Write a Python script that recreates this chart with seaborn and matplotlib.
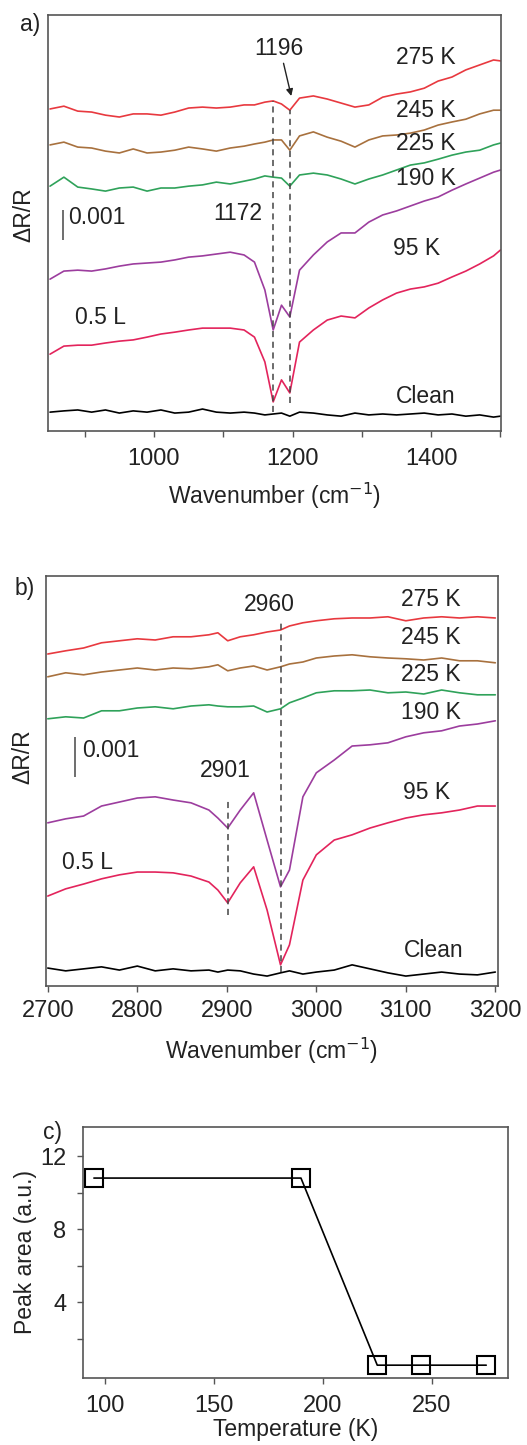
import matplotlib
matplotlib.use("Agg")
import matplotlib.pyplot as plt
import seaborn as sns
import pandas as pd

# ---------------- data (ΔR/R in units of 1e-3, arbitrary vertical offsets) ----------------
wn_a = [850, 870, 890, 910, 930, 950, 970, 990, 1010, 1030, 1050, 1070, 1090, 1110, 1130, 1145,
        1160, 1172, 1184, 1196, 1210, 1230, 1250, 1270, 1290, 1310, 1330, 1350, 1370, 1390, 1410,
        1430, 1450, 1470, 1490, 1500]
a_275 = [10.39, 10.48, 10.32, 10.29, 10.19, 10.13, 10.23, 10.23, 10.19, 10.29, 10.42, 10.45, 10.42,
         10.45, 10.52, 10.52, 10.61, 10.65, 10.55, 10.35, 10.74, 10.81, 10.71, 10.58, 10.45, 10.52,
         10.77, 10.87, 10.94, 11.06, 11.29, 11.42, 11.65, 11.81, 11.97, 11.94]
a_245 = [9.23, 9.32, 9.16, 9.13, 9.03, 8.97, 9.10, 8.97, 9.00, 9.06, 9.16, 9.10, 9.03, 9.13, 9.19,
         9.26, 9.32, 9.39, 9.39, 9.06, 9.52, 9.65, 9.48, 9.35, 9.16, 9.39, 9.52, 9.55, 9.61, 9.71,
         9.87, 9.97, 10.06, 10.23, 10.35, 10.35]
a_225 = [7.90, 8.19, 7.87, 7.81, 7.74, 7.84, 7.87, 7.74, 7.84, 7.84, 7.90, 7.94, 8.03, 7.97, 8.06,
         8.13, 8.23, 8.19, 8.16, 7.90, 8.26, 8.32, 8.26, 8.13, 7.97, 8.13, 8.26, 8.42, 8.58, 8.65,
         8.77, 8.90, 9.00, 9.06, 9.23, 9.29]
a_190 = [4.90, 5.16, 5.19, 5.16, 5.23, 5.32, 5.39, 5.42, 5.45, 5.52, 5.61, 5.65, 5.71, 5.77, 5.68,
         5.45, 4.55, 3.26, 4.06, 3.68, 5.19, 5.68, 6.10, 6.39, 6.39, 6.74, 6.97, 7.10, 7.26, 7.42,
         7.55, 7.77, 7.97, 8.16, 8.35, 8.42]
a_95 = [2.48, 2.74, 2.77, 2.77, 2.84, 2.90, 2.94, 3.03, 3.13, 3.19, 3.26, 3.32, 3.32, 3.32, 3.26,
        3.03, 2.23, 0.94, 1.65, 1.23, 2.87, 3.26, 3.58, 3.71, 3.65, 3.97, 4.23, 4.45, 4.58, 4.65,
        4.77, 4.97, 5.16, 5.39, 5.65, 5.84]
a_clean = [0.61, 0.65, 0.68, 0.61, 0.68, 0.58, 0.65, 0.61, 0.68, 0.58, 0.61, 0.71, 0.61, 0.58, 0.61,
           0.58, 0.52, 0.55, 0.58, 0.48, 0.61, 0.58, 0.52, 0.48, 0.58, 0.52, 0.55, 0.52, 0.55, 0.58,
           0.52, 0.55, 0.48, 0.52, 0.45, 0.48]

wn_b = [2700, 2720, 2740, 2760, 2780, 2800, 2820, 2840, 2860, 2880, 2890, 2901, 2915, 2930, 2945,
        2960, 2970, 2985, 3000, 3020, 3040, 3060, 3080, 3100, 3120, 3140, 3160, 3180, 3200]
b_275 = [8.30, 8.38, 8.45, 8.58, 8.63, 8.68, 8.65, 8.73, 8.73, 8.78, 8.83, 8.63, 8.73, 8.78, 8.85,
         8.90, 9.00, 9.08, 9.13, 9.18, 9.20, 9.20, 9.23, 9.13, 9.20, 9.23, 9.20, 9.23, 9.20]
b_245 = [7.73, 7.83, 7.78, 7.85, 7.90, 7.95, 7.90, 7.95, 7.93, 7.98, 8.03, 7.88, 7.95, 8.00, 7.90,
         7.98, 8.05, 8.10, 8.20, 8.25, 8.28, 8.23, 8.20, 8.18, 8.15, 8.20, 8.13, 8.13, 8.08]
b_225 = [6.68, 6.73, 6.70, 6.88, 6.88, 6.95, 6.98, 6.93, 7.00, 7.03, 7.00, 6.98, 6.98, 7.00, 6.85,
         6.93, 7.08, 7.20, 7.33, 7.38, 7.38, 7.40, 7.33, 7.35, 7.30, 7.40, 7.33, 7.28, 7.28]
b_190 = [4.08, 4.18, 4.25, 4.50, 4.60, 4.70, 4.73, 4.65, 4.58, 4.40, 4.20, 3.95, 4.40, 4.83, 3.65,
         2.48, 2.90, 4.73, 5.33, 5.65, 6.00, 6.03, 6.08, 6.23, 6.33, 6.38, 6.50, 6.55, 6.63]
b_95 = [2.25, 2.43, 2.55, 2.68, 2.78, 2.85, 2.85, 2.83, 2.75, 2.60, 2.40, 2.08, 2.58, 2.98, 1.90,
        0.53, 1.03, 2.65, 3.28, 3.65, 3.78, 3.95, 4.08, 4.20, 4.28, 4.33, 4.40, 4.50, 4.50]
b_clean = [0.45, 0.38, 0.43, 0.48, 0.40, 0.50, 0.38, 0.43, 0.38, 0.40, 0.35, 0.40, 0.38, 0.30, 0.25,
           0.33, 0.38, 0.30, 0.35, 0.40, 0.53, 0.43, 0.33, 0.25, 0.30, 0.35, 0.30, 0.28, 0.35]

labels = ["275 K", "245 K", "225 K", "190 K", "95 K", "Clean"]
colors = ["#e8393f", "#a8713e", "#2fa25a", "#9c3d9e", "#e3245c", "black"]

temp_c = [95, 190, 225, 245, 275]
area_c = [10.8, 10.8, 0.55, 0.55, 0.55]

# label positions
lab_y_a = [12.06, 10.35, 9.29, 8.16, 5.90, 1.10]
lab_x_a = [1435, 1435, 1435, 1435, 1413, 1435]
lab_y_b = [9.65, 8.70, 7.78, 6.85, 4.85, 0.90]
lab_x_b = [3161, 3161, 3161, 3161, 3150, 3164]
peaks_a = [1172, 1196]
peaks_a_lo = [0.61, 0.90]
peaks_a_hi = [10.65, 10.35]
peaks_b = [2901, 2960]
peaks_b_lo = [1.78, 0.35]
peaks_b_hi = [4.70, 9.10]

# ---------------- style ----------------
sns.set_style("ticks")
plt.rcParams["font.family"] = ["Liberation Sans", "DejaVu Sans"]
plt.rcParams["axes.edgecolor"] = "#555555"
plt.rcParams["axes.linewidth"] = 1.2
plt.rcParams["xtick.color"] = "#555555"
plt.rcParams["ytick.color"] = "#555555"
plt.rcParams["xtick.labelcolor"] = "#222222"
plt.rcParams["ytick.labelcolor"] = "#222222"

fig = plt.figure(figsize=(5.27, 14.45), dpi=100)
ax_a = fig.add_axes([0.091, 0.7017, 0.860, 0.2879])
ax_b = fig.add_axes([0.0873, 0.3176, 0.8577, 0.2838])
ax_c = fig.add_axes([0.1575, 0.0464, 0.8065, 0.1737])

fs = 16.5
tfs = 17


def spectra(ax, wn, series, lab_x, lab_y, pad, lpad):
    for s, lab, col, lx, ly in zip(series, labels, colors, lab_x, lab_y):
        df = pd.DataFrame({"wn": wn, "dr": s})
        sns.lineplot(data=df, x="wn", y="dr", color=col, lw=1.2, ax=ax)
        ax.text(lx, ly, lab, ha="right", va="center", fontsize=fs, color="#222222")
    ax.set_yticks([])
    ax.set_ylabel("ΔR/R", fontsize=fs, color="#222222")
    ax.set_xlabel("Wavenumber (cm$^{-1}$)", fontsize=fs, color="#222222", labelpad=lpad)
    ax.tick_params(axis="x", labelsize=tfs, length=4, width=1, pad=pad)
    ax.tick_params(axis="x", which="minor", length=4, width=1)


# ---- panel a ----
spectra(ax_a, wn_a, [a_275, a_245, a_225, a_190, a_95, a_clean], lab_x_a, lab_y_a, 8, 8)
ax_a.set_xlim(847, 1501)
ax_a.set_ylim(0, 13.42)
ax_a.set_xticks([1000, 1200, 1400])
ax_a.set_xticks([900, 1100, 1300, 1500], minor=True)
ax_a.vlines(peaks_a, peaks_a_lo, peaks_a_hi, colors="#444444", linestyles=(0, (4, 3)), lw=1.1)
ax_a.text(1156, 7.03, "1172", ha="right", va="center", fontsize=fs, color="#222222")
ax_a.text(1180, 12.35, "1196", ha="center", va="center", fontsize=fs, color="#222222")
ax_a.annotate("", xy=(1199, 10.72), xytext=(1186, 11.95),
              arrowprops=dict(arrowstyle="-|>", color="#222222", lw=1, mutation_scale=10))
ax_a.vlines([869], [6.16], [7.13], colors="#555555", lw=1.2)
ax_a.text(876, 6.9, "0.001", ha="left", va="center", fontsize=fs, color="#222222")
ax_a.text(886, 3.65, "0.5 L", ha="left", va="center", fontsize=fs, color="#222222")
ax_a.yaxis.set_label_coords(-0.027, 0.52)

# ---- panel b ----
spectra(ax_b, wn_b, [b_275, b_245, b_225, b_190, b_95, b_clean], lab_x_b, lab_y_b, 6, 10)
ax_b.set_xlim(2698, 3203)
ax_b.set_ylim(0, 10.25)
ax_b.set_xticks([2700, 2800, 2900, 3000, 3100, 3200])
ax_b.vlines(peaks_b, peaks_b_lo, peaks_b_hi, colors="#444444", linestyles=(0, (4, 3)), lw=1.1)
ax_b.text(2898, 5.40, "2901", ha="center", va="center", fontsize=fs, color="#222222")
ax_b.text(2948, 9.53, "2960", ha="center", va="center", fontsize=fs, color="#222222")
ax_b.vlines([2730], [5.23], [6.23], colors="#555555", lw=1.2)
ax_b.text(2738, 5.90, "0.001", ha="left", va="center", fontsize=fs, color="#222222")
ax_b.text(2716, 3.10, "0.5 L", ha="left", va="center", fontsize=fs, color="#222222")
ax_b.yaxis.set_label_coords(-0.025, 0.56)

# ---- panel c ----
dfc = pd.DataFrame({"T": temp_c, "area": area_c})
sns.lineplot(data=dfc, x="T", y="area", color="black", lw=1.2, marker="s", markersize=13,
             markerfacecolor="none", markeredgecolor="black", markeredgewidth=1.5, ax=ax_c)
ax_c.set_xlim(90, 285)
ax_c.set_ylim(-0.15, 13.6)
ax_c.set_xticks([100, 150, 200, 250])
ax_c.set_yticks([4, 8, 12])
ax_c.set_yticks([2, 6, 10], minor=True)
ax_c.tick_params(axis="both", labelsize=tfs, length=4, width=1, pad=8)
ax_c.tick_params(axis="y", which="minor", length=4, width=1)
ax_c.set_xlabel("Temperature (K)", fontsize=fs, color="#222222", labelpad=1)
ax_c.set_ylabel("Peak area (a.u.)", fontsize=fs, color="#222222", labelpad=2)

fig.text(0.057, 0.983, "a)", fontsize=fs, ha="center", va="center", color="#222222")
fig.text(0.047, 0.593, "b)", fontsize=fs, ha="center", va="center", color="#222222")
fig.text(0.099, 0.216, "c)", fontsize=fs, ha="center", va="center", color="#222222")

fig.savefig("out.png", dpi=100)
